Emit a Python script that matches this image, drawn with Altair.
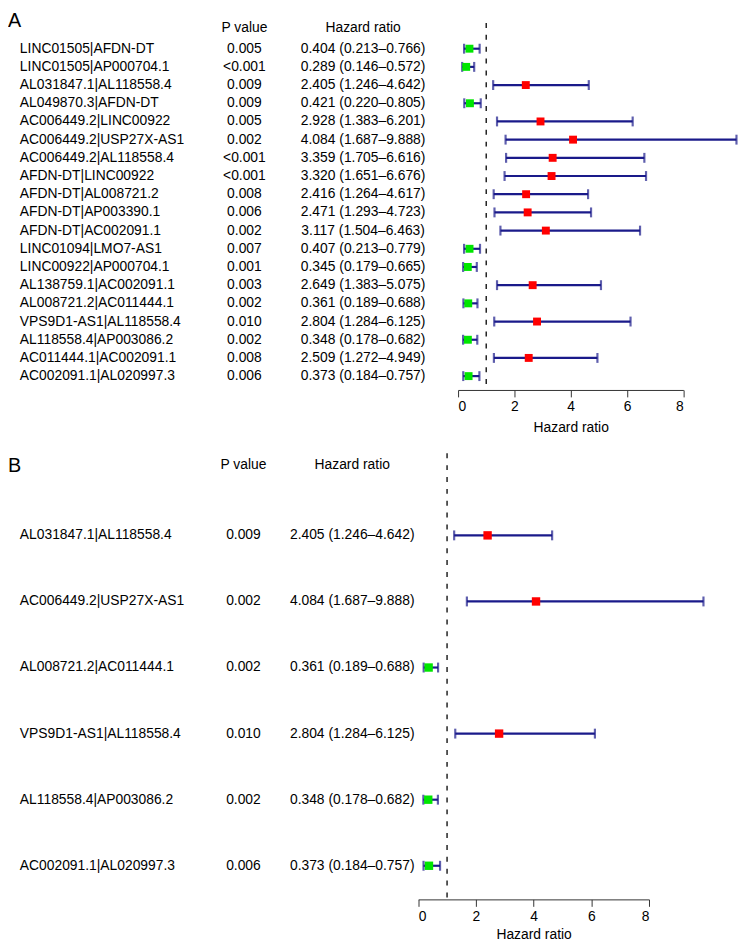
import altair as alt
import pandas as pd

# ---------------- Data ----------------
labels_a = [
    "LINC01505|AFDN-DT", "LINC01505|AP000704.1", "AL031847.1|AL118558.4",
    "AL049870.3|AFDN-DT", "AC006449.2|LINC00922", "AC006449.2|USP27X-AS1",
    "AC006449.2|AL118558.4", "AFDN-DT|LINC00922", "AFDN-DT|AL008721.2",
    "AFDN-DT|AP003390.1", "AFDN-DT|AC002091.1", "LINC01094|LMO7-AS1",
    "LINC00922|AP000704.1", "AL138759.1|AC002091.1", "AL008721.2|AC011444.1",
    "VPS9D1-AS1|AL118558.4", "AL118558.4|AP003086.2", "AC011444.1|AC002091.1",
    "AC002091.1|AL020997.3",
]
p_a = ["0.005", "<0.001", "0.009", "0.009", "0.005", "0.002", "<0.001", "<0.001",
       "0.008", "0.006", "0.002", "0.007", "0.001", "0.003", "0.002", "0.010",
       "0.002", "0.008", "0.006"]
hr_a = [0.404, 0.289, 2.405, 0.421, 2.928, 4.084, 3.359, 3.320, 2.416, 2.471,
        3.117, 0.407, 0.345, 2.649, 0.361, 2.804, 0.348, 2.509, 0.373]
lo_a = [0.213, 0.146, 1.246, 0.220, 1.383, 1.687, 1.705, 1.651, 1.264, 1.293,
        1.504, 0.213, 0.179, 1.383, 0.189, 1.284, 0.178, 1.272, 0.184]
hi_a = [0.766, 0.572, 4.642, 0.805, 6.201, 9.888, 6.616, 6.676, 4.617, 4.723,
        6.463, 0.779, 0.665, 5.075, 0.688, 6.125, 0.682, 4.949, 0.757]

labels_b = [
    "AL031847.1|AL118558.4", "AC006449.2|USP27X-AS1", "AL008721.2|AC011444.1",
    "VPS9D1-AS1|AL118558.4", "AL118558.4|AP003086.2", "AC002091.1|AL020997.3",
]
p_b = ["0.009", "0.002", "0.002", "0.010", "0.002", "0.006"]
hr_b = [2.405, 4.084, 0.361, 2.804, 0.348, 0.373]
lo_b = [1.246, 1.687, 0.189, 1.284, 0.178, 0.184]
hi_b = [4.642, 9.888, 0.688, 6.125, 0.682, 0.757]

x_ticks = [0, 2, 4, 6, 8]

FONT = "Liberation Sans"
NAVY = "#1a1a8a"


def make_df(labels, p, hr, lo, hi):
    return pd.DataFrame({
        "label": labels,
        "p": p,
        "hr": hr,
        "lo": lo,
        "hi": hi,
        "hrtext": [f"{h:.3f} ({l:.3f}\u2013{u:.3f})" for h, l, u in zip(hr, lo, hi)],
        "risk": ["high" if h > 1 else "low" for h in hr],
    })


def panel(df, letter, xr, yr, axis_offset, header_y, col_x, dash_y, letter_y, sq_size,
          title_pad):
    xs = alt.Scale(domain=[0, 8], range=xr, nice=False, zero=False)
    ax = alt.Axis(values=x_ticks, orient="bottom", offset=axis_offset, title="Hazard ratio",
                  grid=False, domainColor="#333333", tickColor="#333333", tickSize=7,
                  labelFontSize=14, titleFontSize=14, titleFontWeight="normal",
                  labelFont=FONT, titleFont=FONT, labelColor="black", titleColor="black",
                  labelPadding=3, titlePadding=title_pad, format="d")
    ys = alt.Scale(type="point", range=yr, padding=0)
    Y = alt.Y("label:N", sort=list(df["label"]), scale=ys, axis=None)

    base = alt.Chart(df)
    ci = base.mark_rule(color=NAVY, strokeWidth=2.2).encode(
        x=alt.X("lo:Q", scale=xs, axis=ax), x2="hi:Q", y=Y)
    cap_lo = base.mark_tick(color=NAVY, thickness=2.2, size=10).encode(
        x=alt.X("lo:Q", scale=xs, axis=ax), y=Y)
    cap_hi = base.mark_tick(color=NAVY, thickness=2.2, size=10).encode(
        x=alt.X("hi:Q", scale=xs, axis=ax), y=Y)
    sq = base.mark_square(size=sq_size, opacity=1).encode(
        x=alt.X("hr:Q", scale=xs, axis=ax), y=Y,
        color=alt.Color("risk:N", scale=alt.Scale(domain=["high", "low"],
                                                  range=["#ff0000", "#00e600"]), legend=None))
    ref = alt.Chart(pd.DataFrame({"one": [1]})).mark_rule(
        color="#222222", strokeWidth=1.5, strokeDash=[5, 7]).encode(
        x=alt.X("one:Q", scale=xs, axis=ax), y=alt.value(dash_y[0]), y2=alt.value(dash_y[1]))

    t_label = base.mark_text(align="left", baseline="middle", font=FONT, fontSize=14,
                             color="black").encode(x=alt.value(col_x[0]), y=Y, text="label:N")
    t_p = base.mark_text(align="center", baseline="middle", font=FONT, fontSize=14,
                         color="black").encode(x=alt.value(col_x[1]), y=Y, text="p:N")
    t_hr = base.mark_text(align="center", baseline="middle", font=FONT, fontSize=14,
                          color="black").encode(x=alt.value(col_x[2]), y=Y, text="hrtext:N")

    h_p = alt.Chart(pd.DataFrame({"t": ["P value"]})).mark_text(
        align="center", baseline="middle", font=FONT, fontSize=14, color="black").encode(
        x=alt.value(col_x[1]), y=alt.value(header_y), text="t:N")
    h_hr = alt.Chart(pd.DataFrame({"t": ["Hazard ratio"]})).mark_text(
        align="center", baseline="middle", font=FONT, fontSize=14, color="black").encode(
        x=alt.value(col_x[2]), y=alt.value(header_y), text="t:N")
    h_letter = alt.Chart(pd.DataFrame({"t": [letter]})).mark_text(
        align="left", baseline="middle", font=FONT, fontSize=20, color="black").encode(
        x=alt.value(0), y=alt.value(letter_y), text="t:N")

    return alt.layer(ref, ci, cap_lo, cap_hi, sq, t_label, t_p, t_hr, h_p, h_hr, h_letter)


df_a = make_df(labels_a, p_a, hr_a, lo_a, hi_a)
df_b = make_df(labels_b, p_b, hr_b, lo_b, hi_b)

H = 940
panel_a = panel(df_a, "A", xr=[455, 682.7], yr=[36, 367], axis_offset=381 - H,
                header_y=15, col_x=[12, 239, 359], dash_y=[10, 381], letter_y=8, sq_size=64,
                title_pad=7)
panel_b = panel(df_b, "B", xr=[414.7, 648], yr=[528, 862], axis_offset=896 - H,
                header_y=457, col_x=[12, 238, 348], dash_y=[445, 896], letter_y=458, sq_size=72,
                title_pad=5)

chart = alt.layer(panel_a, panel_b).resolve_scale(
    x="independent", y="independent"
).properties(
    width=740, height=H, padding=0,
    autosize=alt.AutoSizeParams(type="none"),
).configure_view(stroke=None)

chart.save("out.html", embed_options={"renderer": "svg", "actions": False})
